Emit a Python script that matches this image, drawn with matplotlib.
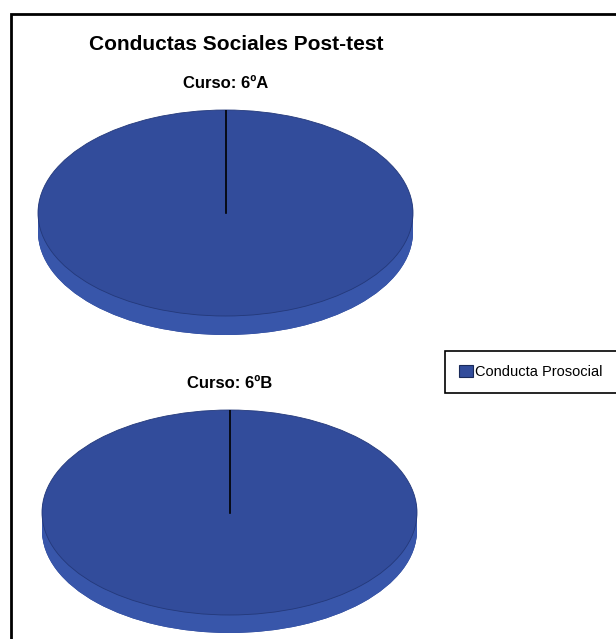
import numpy as np
import matplotlib.pyplot as plt
from matplotlib.patches import Rectangle

## Data ##
title = "Conductas Sociales Post-test"
cursos = ["Curso: 6ºA", "Curso: 6ºB"]
categorias = ["Conducta Prosocial"]
valores = [[100], [100]]   # one class per course -> full pie

top_color = "#324c9b"
side_color = "#3856aa"
fam = ["Liberation Sans Narrow", "Liberation Sans", "DejaVu Sans"]

W, H = 616, 639
fig = plt.figure(figsize=(W / 100, H / 100), dpi=100)

# outer frame (runs off right/bottom like the source screenshot)
fig.patches.append(Rectangle((11 / W, -0.05), 1.2, 1 - 14 / H + 0.05,
                             transform=fig.transFigure, fill=False,
                             lw=2, edgecolor="black"))

fig.text(236 / W, 1 - 45 / H, title, ha="center", va="center",
         fontsize=15, fontweight="bold", family=fam)

# pie boxes in pixels: left, top, width, face height, depth
boxes = [(38, 110, 375, 206, 19), (42, 410, 375, 205, 18)]
depth_steps = 12

handles = None
for (vals, curso, (x0, y0, w, fh, d)) in zip(valores, cursos, boxes):
    ax = fig.add_axes([x0 / W, 1 - (y0 + fh + d) / H, w / W, (fh + d) / H])
    dz = 2.0 * d / fh
    # side of the disc: stacked copies shifted down
    ax.pie(vals, colors=["#2a4590"], startangle=90, counterclock=False,
           center=(0, -dz), wedgeprops=dict(linewidth=0), radius=1.0)
    for k in np.linspace(dz, 0, depth_steps, endpoint=False):
        ax.pie(vals, colors=[side_color], startangle=90, counterclock=False,
               center=(0, -k), wedgeprops=dict(linewidth=0))
    wedges, _ = ax.pie(vals, colors=[top_color], startangle=90,
                       counterclock=False,
                       wedgeprops=dict(linewidth=0.6, edgecolor="#24397a"))
    handles = wedges
    # slice boundaries from the data
    ang = 90 - 360 * np.cumsum([0] + list(vals)[:-1]) / np.sum(vals)
    for a in np.radians(ang):
        ax.plot([0, np.cos(a)], [0, np.sin(a)], color="black", lw=1.2)
    ax.set_aspect("auto")
    ax.set_xlim(-1, 1)
    ax.set_ylim(-1 - dz, 1)
    ax.axis("off")
    fig.text((x0 + w / 2) / W, 1 - (y0 - 27) / H, curso, ha="center",
             va="center", fontsize=12, fontweight="bold", family=fam)

leg = fig.legend(handles, categorias, loc="upper left",
                 bbox_to_anchor=(445 / W, 1 - 392 / H, 250 / W, 41 / H),
                 mode="expand", borderaxespad=0, borderpad=0.95,
                 fancybox=False, edgecolor="black", framealpha=1,
                 handlelength=0.95, handleheight=0.95, handletextpad=0.15,
                 prop=dict(family=fam, size=10.5))
leg.get_frame().set_linewidth(1.2)
for p in leg.get_patches():
    p.set_edgecolor("#1a2a5a")
    p.set_linewidth(0.8)

plt.savefig("out.png", dpi=100)
